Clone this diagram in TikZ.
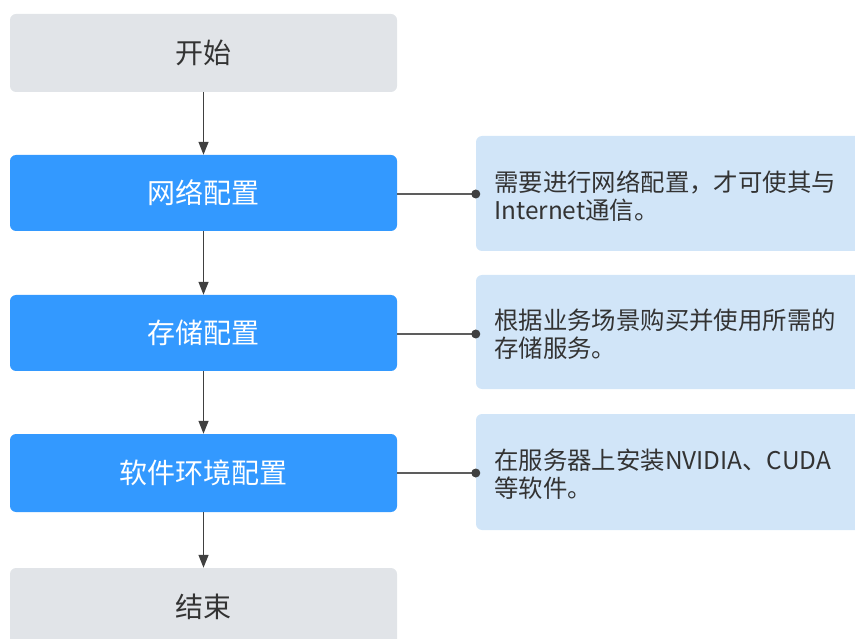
\documentclass[tikz,border=0pt]{standalone}
\usepackage{fontspec}
\setmainfont{Noto Sans CJK SC}
\usetikzlibrary{arrows.meta}
\definecolor{startgray}{HTML}{E1E4E8}
\definecolor{stepblue}{HTML}{3399FF}
\definecolor{notebg}{HTML}{D1E5F8}
\definecolor{txtdark}{HTML}{333333}
\definecolor{linegray}{HTML}{404040}
\tikzset{
  endbox/.style={rectangle, rounded corners=6pt, fill=startgray, text=txtdark,
    minimum width=387pt, font=\fontsize{28}{31}\selectfont, inner sep=0pt},
  stepbox/.style={rectangle, rounded corners=6pt, fill=stepblue, text=white,
    minimum width=387pt, font=\fontsize{28}{31}\selectfont, inner sep=0pt},
  notebox/.style={rectangle, rounded corners=6pt, fill=notebg,
    minimum width=389pt, inner sep=0pt},
  notetext/.style={anchor=west, align=left, text=txtdark, inner sep=0pt,
    font=\fontsize{24.4}{28}\selectfont},
  flow/.style={draw=linegray, line width=1.3pt, -{Triangle[width=10pt,length=13pt]}},
  link/.style={draw=linegray!85, line width=1.3pt},
  dotmark/.style={circle, fill=linegray, minimum size=9pt, inner sep=0pt}
}
\begin{document}
\begin{tikzpicture}[x=1pt,y=-1pt]
\useasboundingbox (0,0) rectangle (855,639);
% main flow
\node[endbox, minimum height=78pt] (start) at (203.5,53) {开始};
\node[stepbox, minimum height=76pt] (net) at (203.5,193) {网络配置};
\node[stepbox, minimum height=76pt] (stor) at (203.5,333) {存储配置};
\node[stepbox, minimum height=78pt] (soft) at (203.5,473) {软件环境配置};
\node[endbox, minimum height=78pt] (end) at (203.5,607) {结束};
% notes
\node[notebox, minimum height=115pt] (n1) at (670.5,193.5) {};
\node[notebox, minimum height=114pt] (n2) at (670.5,332) {};
\node[notebox, minimum height=116pt] (n3) at (670.5,472) {};
\node[notetext] (t1) at (494,196) {需要进行网络配置，才可使其与\\Internet通信。};
\node[notetext] (t2) at (494,334) {根据业务场景购买并使用所需的\\存储服务。};
\node[notetext] (t3) at (494,474) {在服务器上安装NVIDIA、CUDA\\等软件。};
% arrows
\draw[flow] (start.south) -- (net.north);
\draw[flow] (net.south) -- (stor.north);
\draw[flow] (stor.south) -- (soft.north);
\draw[flow] (soft.south) -- (end.north);
% links
\coordinate (d1) at (n1.west |- 0,194);
\coordinate (d2) at (n2.west |- 0,334);
\coordinate (d3) at (n3.west |- 0,473);
\draw[link] (net.east |- d1) -- (d1);
\draw[link] (stor.east |- d2) -- (d2);
\draw[link] (soft.east |- d3) -- (d3);
\node[dotmark] at (d1) {};
\node[dotmark] at (d2) {};
\node[dotmark] at (d3) {};
\end{tikzpicture}
\end{document}
